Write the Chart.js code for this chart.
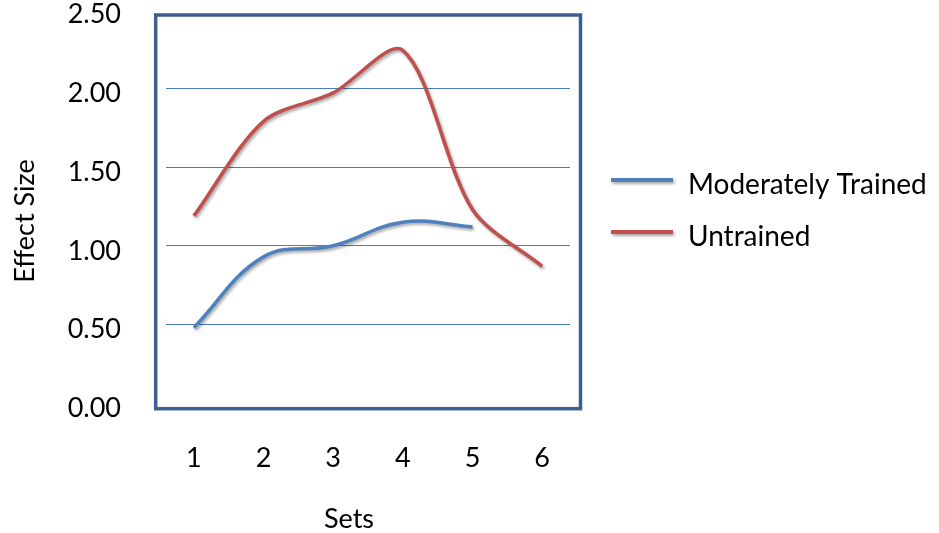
<!DOCTYPE html>
<html>
<head>
<meta charset="utf-8">
<title>Effect Size by Set</title>
<script src="https://cdn.jsdelivr.net/npm/chart.js@4.4.0/dist/chart.umd.min.js"></script>
<style>
  html, body { margin: 0; padding: 0; background: #ffffff; }
  #wrap { width: 939px; height: 533px; }
</style>
</head>
<body>
<div id="wrap"><canvas id="chart" width="939" height="533"></canvas></div>
<script>
// Sets on the x axis
const sets = [1, 2, 3, 4, 5, 6];
// Effect size per set
const moderatelyTrained = [0.48, 0.93, 1.00, 1.15, 1.12];
const untrained = [1.19, 1.79, 1.97, 2.24, 1.23, 0.87];
// Value axis ticks
const yTickValues = [0, 0.5, 1.0, 1.5, 2.0, 2.5];

const seriesNames = ['Moderately Trained', 'Untrained'];
const seriesColors = ['#4F81BD', '#C0504D'];
const xTitle = 'Sets';
const yTitle = 'Effect Size';

const FONT = 'Lato, "Open Sans", sans-serif';

function toPoints(values) {
  return values.map((v, i) => ({ x: sets[i], y: v }));
}

// soft drop shadow under the series lines
const lineShadow = {
  id: 'lineShadow',
  beforeDatasetDraw(chart) {
    const c = chart.ctx;
    c.save();
    c.shadowColor = 'rgba(0,0,0,0.35)';
    c.shadowBlur = 3;
    c.shadowOffsetX = 1.5;
    c.shadowOffsetY = 2;
  },
  afterDatasetDraw(chart) {
    chart.ctx.restore();
  }
};

// framed plot border, slightly larger than the gridline span
const plotFrame = {
  id: 'plotFrame',
  afterDraw(chart) {
    const a = chart.chartArea, c = chart.ctx;
    c.save();
    c.strokeStyle = '#3C5F8F';
    c.lineWidth = 3.5;
    c.strokeRect(a.left - 10.3, a.top + 5.6, (a.right + 10.5) - (a.left - 10.3), (a.bottom + 5.3) - (a.top + 5.6));
    c.restore();
  }
};

// axis titles
const axisTitles = {
  id: 'axisTitles',
  afterDraw(chart) {
    const c = chart.ctx;
    c.save();
    c.fillStyle = '#000000';
    c.font = '27px ' + FONT;
    c.textAlign = 'center';
    c.textBaseline = 'middle';
    c.fillText(xTitle, 349, 519);
    c.translate(25, 221);
    c.rotate(-Math.PI / 2);
    c.fillText(yTitle, 0, 0);
    c.restore();
  }
};

// legend on the right
const sideLegend = {
  id: 'sideLegend',
  afterDraw(chart) {
    const c = chart.ctx;
    const rows = [180, 232];
    c.save();
    chart.data.datasets.forEach((ds, i) => {
      const y = rows[i];
      c.save();
      c.shadowColor = 'rgba(0,0,0,0.35)';
      c.shadowBlur = 3;
      c.shadowOffsetX = 1.5;
      c.shadowOffsetY = 2;
      c.strokeStyle = ds.borderColor;
      c.lineWidth = 4;
      c.beginPath();
      c.moveTo(611, y);
      c.lineTo(673, y);
      c.stroke();
      c.restore();
      c.fillStyle = '#000000';
      c.font = '28px ' + FONT;
      c.textAlign = 'left';
      c.textBaseline = 'middle';
      c.fillText(ds.label, 688, y + 5);
    });
    c.restore();
  }
};

new Chart(document.getElementById('chart'), {
  type: 'line',
  data: {
    datasets: [
      {
        label: seriesNames[0],
        data: toPoints(moderatelyTrained),
        borderColor: seriesColors[0],
        backgroundColor: seriesColors[0],
        borderWidth: 3.6,
        pointRadius: 0,
        tension: 0.4,
        fill: false
      },
      {
        label: seriesNames[1],
        data: toPoints(untrained),
        borderColor: seriesColors[1],
        backgroundColor: seriesColors[1],
        borderWidth: 3.6,
        pointRadius: 0,
        tension: 0.3,
        fill: false
      }
    ]
  },
  options: {
    responsive: false,
    devicePixelRatio: 1,
    animation: false,
    layout: { padding: { top: 9.4, right: 369, bottom: 0, left: 0 } },
    plugins: {
      legend: { display: false },
      tooltip: { enabled: false },
      title: { display: false }
    },
    scales: {
      x: {
        type: 'linear',
        min: 0.6,
        max: 6.4,
        grid: { display: false },
        border: { display: false },
        ticks: {
          stepSize: 1,
          includeBounds: false,
          color: '#000000',
          font: { family: FONT, size: 27 },
          padding: 31,
          callback: v => String(v)
        },
        afterFit(scale) {
          scale.height = 129.6;
          scale.paddingLeft = 0;
          scale.paddingRight = 0;
        }
      },
      y: {
        min: yTickValues[0],
        max: yTickValues[yTickValues.length - 1],
        afterBuildTicks(scale) {
          scale.ticks = yTickValues.map(v => ({ value: v }));
        },
        grid: {
          drawTicks: false,
          lineWidth: 1,
          color: ctx => (ctx.tick && (ctx.tick.value === 0 || ctx.tick.value === 2.5)) ? 'rgba(0,0,0,0)' : '#4A7EBB'
        },
        border: { display: false },
        ticks: {
          color: '#000000',
          font: { family: FONT, size: 27 },
          padding: 45,
          labelOffset: 5,
          callback: v => Number(v).toFixed(2)
        },
        afterFit(scale) {
          scale.width = 166;
          scale.paddingTop = 0;
          scale.paddingBottom = 0;
        }
      }
    }
  },
  plugins: [lineShadow, plotFrame, axisTitles, sideLegend]
});
</script>
</body>
</html>
